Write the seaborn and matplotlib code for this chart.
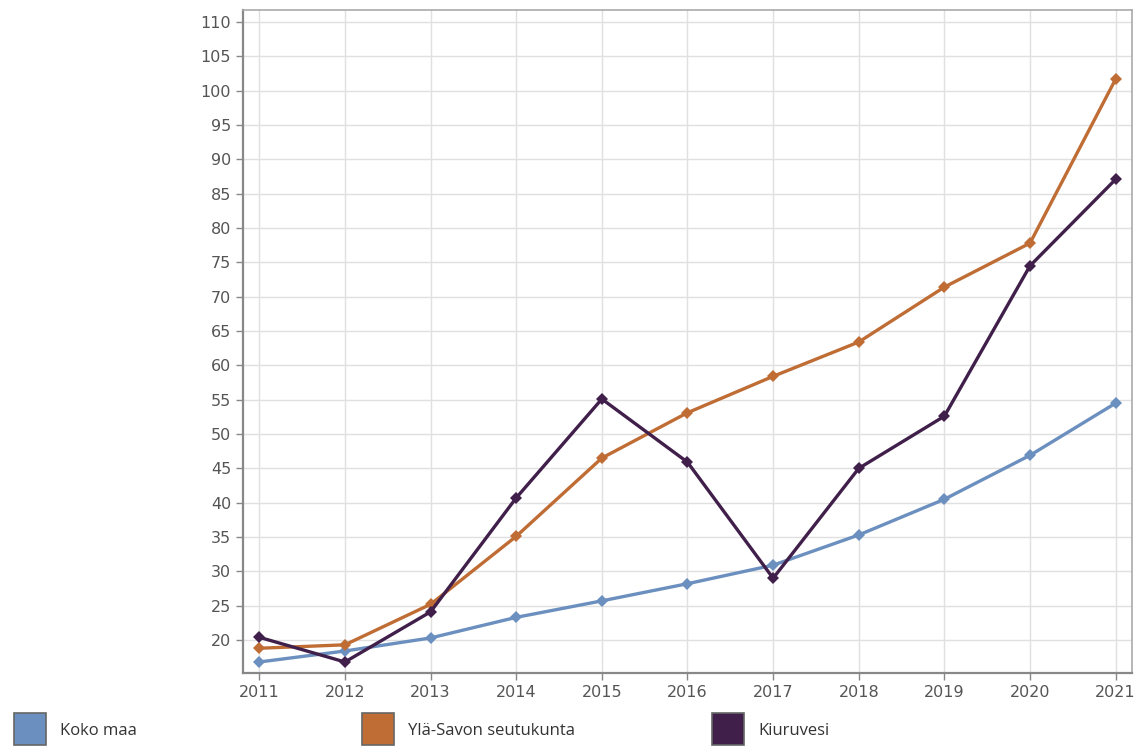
import pandas as pd
import matplotlib.pyplot as plt
import seaborn as sns
from matplotlib.lines import Line2D

years = list(range(2011, 2022))
koko_maa = [16.8, 18.4, 20.3, 23.3, 25.7, 28.2, 30.9, 35.3, 40.5, 46.9, 54.5]
yla_savo = [18.8, 19.3, 25.2, 35.1, 46.5, 53.1, 58.4, 63.4, 71.4, 77.8, 101.7]
kiuruvesi = [20.4, 16.8, 24.1, 40.7, 55.1, 45.9, 29.0, 45.0, 52.6, 74.5, 87.1]

series = ["Koko maa", "Ylä-Savon seutukunta", "Kiuruvesi"]
colors = ["#6b8fbf", "#bf6d35", "#40204a"]

df = pd.DataFrame({
    "Vuosi": years * 3,
    "Arvo": koko_maa + yla_savo + kiuruvesi,
    "Alue": [s for s in series for _ in years],
})

sns.set_style("white")
plt.rcParams["font.family"] = ["DejaVu Sans"]

fig = plt.figure(figsize=(11.42, 7.47), dpi=100)
ax = fig.add_axes([0.2128, 0.0991, 0.7784, 0.8875])

sns.lineplot(
    data=df, x="Vuosi", y="Arvo", hue="Alue", hue_order=series,
    palette=colors, marker="D", markersize=6, markeredgewidth=0,
    linewidth=2.4, legend=False, ax=ax
)

ax.set_xlim(2010.81, 2021.19)
ax.set_ylim(15.2, 111.75)
ax.set_xticks(years)
ax.set_yticks(range(20, 111, 5))
ax.set_xlabel("")
ax.set_ylabel("")
ax.grid(True, color="#e0e0e0", linewidth=1)
ax.tick_params(axis="both", colors="#888888", labelcolor="#555555",
               labelsize=11.5, length=5, width=1, direction="out", left=True, bottom=True)
for side in ["left", "bottom"]:
    ax.spines[side].set_color("#888888")
    ax.spines[side].set_linewidth(1.6)
for side in ["top", "right"]:
    ax.spines[side].set_color("#aaaaaa")
    ax.spines[side].set_linewidth(1.2)

# legend entries spread along the bottom edge
legend_x = [0.006, 0.311, 0.617]
for name, col, lx in zip(series, colors, legend_x):
    h = Line2D([], [], marker="s", linestyle="", markersize=23,
               markerfacecolor=col, markeredgecolor="#666666", markeredgewidth=1.2)
    leg = fig.legend([h], [name], loc="center left", bbox_to_anchor=(lx, 0.0214),
                     frameon=False, handletextpad=0.8, borderaxespad=0,
                     prop={"family": "Open Sans", "size": 12})
    for t in leg.get_texts():
        t.set_color("#333333")

fig.savefig("out.png", dpi=100)
